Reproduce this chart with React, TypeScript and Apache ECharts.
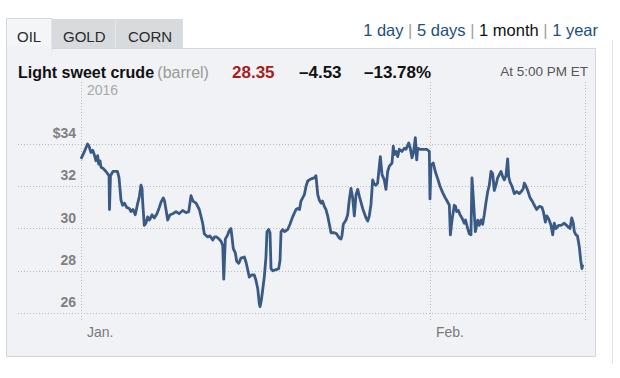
import React, { useEffect, useRef } from "react";
import * as echarts from "echarts";

// Days since Jan 1, 2016 (fractional, intraday)
const days: number[] = [
  0, 0.27, 0.58, 0.71, 0.89, 1.04, 1.18, 1.33, 1.48, 1.57, 1.69, 1.78, 1.95, 2.22, 2.49, 2.53, 2.62, 2.84,
  3.24, 3.38, 3.55, 3.7, 3.86, 4.06, 4.29, 4.44, 4.62, 4.82, 5.04, 5.18, 5.33, 5.42, 5.48, 5.62, 5.77, 5.92,
  6.08, 6.31, 6.51, 6.75, 6.96, 7.11, 7.31, 7.42, 7.55, 7.7, 7.91, 8.17, 8.44, 8.71, 9.03, 9.33, 9.57, 9.77,
  9.95, 10.22, 10.51, 10.81, 10.95, 11.25, 11.46, 11.7, 11.86, 12.05, 12.26, 12.44, 12.59, 12.68, 12.82,
  13.03, 13.17, 13.32, 13.41, 13.53, 13.71, 13.83, 14.01, 14.21, 14.51, 14.66, 14.81, 14.95, 15.15, 15.39,
  15.54, 15.7, 15.84, 15.9, 16.02, 16.14, 16.28, 16.43, 16.52, 16.67, 16.79, 16.88, 17.03, 17.32, 17.56,
  17.68, 17.77, 17.92, 18.08, 18.36, 18.56, 18.8, 19.1, 19.25, 19.41, 19.54, 19.69, 19.84, 19.99, 20.14,
  20.43, 20.72, 20.87, 21.03, 21.17, 21.32, 21.45, 21.61, 21.76, 21.91, 22.06, 22.21, 22.5, 22.7, 22.94,
  23.09, 23.18, 23.3, 23.54, 23.69, 23.83, 23.98, 24.13, 24.28, 24.43, 24.58, 24.74, 25.02, 25.32, 25.47,
  25.61, 25.76, 25.91, 26.05, 26.2, 26.35, 26.5, 26.59, 26.74, 26.94, 27.09, 27.24, 27.39, 27.63, 27.74,
  27.83, 27.98, 28.13, 28.27, 28.51, 28.72, 28.87, 29.11, 29.25, 29.4, 29.52, 29.7, 29.82, 29.91, 30.11,
  30.35, 30.71, 30.94, 31.0, 31.09, 31.29, 31.47, 31.69, 31.89, 32.13, 32.36, 32.47, 32.72, 32.81, 32.96,
  33.16, 33.27, 33.37, 33.53, 33.67, 33.84, 34.05, 34.16, 34.35, 34.49, 34.64, 34.73, 34.85, 35.03, 35.24,
  35.38, 35.53, 35.68, 35.82, 35.98, 36.13, 36.27, 36.42, 36.57, 36.71, 36.86, 37.01, 37.16, 37.31, 37.46,
  37.6, 37.75, 37.9, 37.99, 38.11, 38.29, 38.49, 38.7, 38.94, 39.18, 39.29, 39.38, 39.53, 39.68, 39.89,
  40.13, 40.27, 40.48, 40.71, 40.95, 41.07, 41.25, 41.37, 41.55, 41.75, 41.9, 42.04, 42.19, 42.43, 42.64,
  42.93, 43.23, 43.44, 43.59, 43.73, 43.82, 43.97, 44.1, 44.26, 44.39, 44.5, 44.56,
];

// Price, $ per barrel
const prices: number[] = [
  33.3, 33.6, 34.0, 33.9, 33.6, 33.7, 33.5, 33.2, 33.45, 33.05, 33.2, 32.9, 32.85, 32.7, 32.5, 30.9, 32.5, 32.7,
  32.7, 32.4, 31.35, 31.1, 31.2, 31.0, 30.95, 30.8, 30.9, 30.65, 31.2, 31.5, 32.05, 31.9, 31.25, 30.15, 30.25, 30.55,
  30.4, 30.65, 30.5, 30.7, 31.0, 31.25, 31.45, 31.3, 30.9, 30.4, 30.65, 30.7, 30.8, 30.7, 30.85, 30.75, 30.8, 31.55,
  31.3, 31.2, 30.9, 30.25, 29.75, 29.6, 29.65, 29.45, 29.6, 29.6, 29.5, 29.4, 29.2, 27.6, 29.5,
  29.7, 29.9, 30.0, 29.6, 29.05, 28.85, 28.45, 28.35, 28.6, 28.65, 28.4, 28.05, 27.7, 27.8, 27.8,
  27.55, 27.15, 26.45, 26.3, 26.6, 27.1, 27.7, 28.65, 29.85, 29.95, 29.8, 28.1, 28.0, 28.05, 28.1,
  28.5, 29.85, 29.95, 29.85, 29.95, 30.2, 30.55, 30.9, 30.95, 30.9, 31.3, 31.45, 31.6, 32.0, 32.25,
  32.35, 32.4, 32.5, 31.6, 31.35, 31.2, 31.3, 31.05, 30.9, 30.6, 30.2, 29.8, 29.8, 29.75, 29.55,
  29.5, 29.65, 30.2, 30.4, 30.65, 31.35, 31.9, 31.45, 30.6, 31.6, 31.85, 31.5, 30.95, 30.5, 30.35,
  30.6, 31.15, 32.3, 32.1, 32.05, 32.15, 32.95, 33.4, 32.55, 32.3, 31.85, 32.7, 32.95, 33.1, 33.9,
  33.5, 33.65, 33.4, 33.75, 33.65, 33.8, 33.75, 34.05, 33.8, 33.35, 33.55, 34.3, 33.25, 33.8, 33.75,
  33.75, 33.75, 33.65, 31.4, 33.0, 33.1, 32.7, 32.35, 32.0, 31.7, 31.45, 31.35, 31.1, 29.7, 30.4,
  31.1, 31.05, 30.8, 30.85, 30.65, 30.5, 30.25, 30.4, 30.0, 29.75, 29.7, 32.4, 31.45, 29.85, 30.4,
  30.15, 30.4, 30.2, 30.65, 31.25, 31.75, 32.05, 32.7, 32.6, 31.8, 32.05, 32.4, 32.55, 32.7, 32.45,
  32.3, 32.5, 33.3, 32.45, 32.2, 32.0, 31.65, 31.75, 31.65, 31.8, 31.9, 32.15, 32.0, 31.8, 31.45,
  31.25, 31.1, 30.9, 31.05, 31.0, 30.8, 30.3, 30.6, 30.45, 30.15, 29.7, 30.25, 30.0, 30.15, 30.15,
  30.25, 30.1, 30.0, 30.5, 30.25, 29.85, 29.7, 29.65, 29.15, 28.5, 28.1, 28.3,
];

const yTicks: number[] = [26, 28, 30, 32, 34];
const monthTicks: number[] = [0, 31];
const monthLabels: string[] = ["Jan.", "Feb."];
const tabs: string[] = ["OIL", "GOLD", "CORN"];
const ranges: string[] = ["1 day", "5 days", "1 month", "1 year"];

const X_START = -5.596;
const X_END = 44.77;

const FONT = "Helvetica, Arial, 'Liberation Sans', sans-serif";

export default function App() {
  const ref = useRef<HTMLDivElement>(null);

  useEffect(() => {
    if (!ref.current) return;
    const chart = echarts.init(ref.current, undefined, { renderer: "svg" });
    const data = days.map((d, i) => [d, prices[i]]);
    const dotted = { color: "#b9bdc3", width: 1, type: [1, 2] as any };

    const rangeText = ranges
      .map((r) => (r === "1 month" ? `{k|${r}}` : `{b|${r}}`))
      .join("{s| | }");

    chart.setOption({
      animation: false,
      backgroundColor: "#ffffff",
      textStyle: { fontFamily: FONT },
      grid: [
        { left: 18, right: 35, top: 144, bottom: 65 },
        { left: 81, right: 35, top: 82, bottom: 58 },
      ],
      xAxis: [
        { type: "value", gridIndex: 0, min: X_START, max: X_END, show: false },
        {
          type: "value",
          gridIndex: 1,
          min: 0,
          max: X_END,
          interval: 31,
          axisLine: { show: false },
          axisTick: { show: false },
          splitLine: { show: true, lineStyle: dotted },
          axisLabel: {
            show: true,
            align: "left",
            verticalAlign: "top",
            margin: 5,
            padding: [0, 0, 0, 6],
            color: "#7a7a7a",
            fontSize: 14,
            fontFamily: FONT,
            formatter: (v: number) => {
              const idx = monthTicks.findIndex((m) => Math.abs(m - v) < 1e-6);
              return idx >= 0 ? monthLabels[idx] : "";
            },
          },
        },
      ],
      yAxis: [
        {
          type: "value",
          gridIndex: 0,
          min: yTicks[0],
          max: yTicks[yTicks.length - 1],
          interval: 2,
          axisLine: { show: false },
          axisTick: { show: false },
          splitLine: { show: true, lineStyle: dotted },
          axisLabel: {
            inside: true,
            margin: 58,
            align: "right",
            verticalAlign: "bottom",
            lineHeight: 22,
            color: "#808080",
            fontSize: 14,
            fontWeight: "bold",
            fontFamily: FONT,
            formatter: (v: number) => (v === 34 ? "$34" : String(v)),
          },
        },
        { type: "value", gridIndex: 1, show: false, min: 0, max: 1 },
      ],
      series: [
        {
          type: "line",
          xAxisIndex: 0,
          yAxisIndex: 0,
          data,
          showSymbol: false,
          clip: false,
          z: 5,
          lineStyle: { color: "#3a5a86", width: 2.8, join: "round" },
        },
      ],
      graphic: [
        {
          type: "rect",
          z: -10,
          shape: { x: 6.5, y: 48.5, width: 589, height: 308 },
          style: { fill: "#f0f2f5", stroke: "#d3d6da", lineWidth: 1 },
        },
        {
          type: "rect",
          z: -9,
          shape: { x: 52, y: 19, width: 131, height: 29 },
          style: { fill: "#d8dbde" },
        },
        {
          type: "line",
          z: -8,
          shape: { x1: 115.5, y1: 19, x2: 115.5, y2: 48 },
          style: { stroke: "#e4e6e8", lineWidth: 1 },
        },
        {
          type: "rect",
          z: -8,
          shape: { x: 6.5, y: 18.5, width: 45.5, height: 32 },
          style: { fill: "#f3f5f7", stroke: "#d3d6da", lineWidth: 1 },
        },
        {
          type: "rect",
          z: -7,
          shape: { x: 7, y: 46, width: 44.5, height: 5 },
          style: { fill: "#f0f2f5" },
        },
        {
          type: "line",
          z: -10,
          shape: { x1: 612.5, y1: 40, x2: 612.5, y2: 364 },
          style: { stroke: "#e2e2e2", lineWidth: 1 },
        },
        {
          type: "text",
          z: 10,
          x: 17,
          y: 36,
          style: { text: tabs[0], fontSize: 15, fontFamily: FONT, fill: "#2a2a2a", verticalAlign: "middle" },
        },
        {
          type: "text",
          z: 10,
          x: 63,
          y: 36,
          style: { text: tabs[1], fontSize: 15, fontFamily: FONT, fill: "#2a2a2a", verticalAlign: "middle" },
        },
        {
          type: "text",
          z: 10,
          x: 128,
          y: 36,
          style: { text: tabs[2], fontSize: 15, fontFamily: FONT, fill: "#2a2a2a", verticalAlign: "middle" },
        },
        {
          type: "text",
          z: 10,
          x: 598,
          y: 30,
          style: {
            text: rangeText,
            align: "right",
            verticalAlign: "middle",
            fontFamily: FONT,
            fontSize: 16.5,
            rich: {
              b: { fill: "#1d4f80", fontSize: 16.5, fontFamily: FONT },
              k: { fill: "#111111", fontSize: 16.5, fontFamily: FONT },
              s: { fill: "#a0a0a0", fontSize: 16.5, fontFamily: FONT },
            },
          },
        },
        {
          type: "text",
          z: 10,
          x: 18,
          y: 72,
          style: {
            text: "{t|Light sweet crude} {u|(barrel)}",
            verticalAlign: "middle",
            fontFamily: FONT,
            rich: {
              t: { fill: "#111111", fontSize: 16, fontWeight: "bold", fontFamily: FONT },
              u: { fill: "#9a9a9a", fontSize: 16, fontFamily: FONT },
            },
          },
        },
        {
          type: "text",
          z: 10,
          x: 232,
          y: 72,
          style: { text: "28.35", fill: "#a51d1d", fontSize: 17, fontWeight: "bold", fontFamily: FONT, verticalAlign: "middle" },
        },
        {
          type: "text",
          z: 10,
          x: 299,
          y: 72,
          style: { text: "–4.53", fill: "#111111", fontSize: 17, fontWeight: "bold", fontFamily: FONT, verticalAlign: "middle" },
        },
        {
          type: "text",
          z: 10,
          x: 364,
          y: 72,
          style: { text: "–13.78%", fill: "#111111", fontSize: 17, fontWeight: "bold", fontFamily: FONT, verticalAlign: "middle" },
        },
        {
          type: "text",
          z: 10,
          x: 588,
          y: 71,
          style: { text: "At 5:00 PM ET", fill: "#555555", fontSize: 13.5, fontFamily: FONT, align: "right", verticalAlign: "middle" },
        },
        {
          type: "text",
          z: 10,
          x: 87,
          y: 90,
          style: { text: "2016", fill: "#a8a8a8", fontSize: 14, fontFamily: FONT, verticalAlign: "middle" },
        },
      ],
    });
    return () => chart.dispose();
  }, []);

  return (
    <div
      ref={ref}
      style={{ position: "absolute", left: 0, top: 0, width: 620, height: 378 }}
    />
  );
}
